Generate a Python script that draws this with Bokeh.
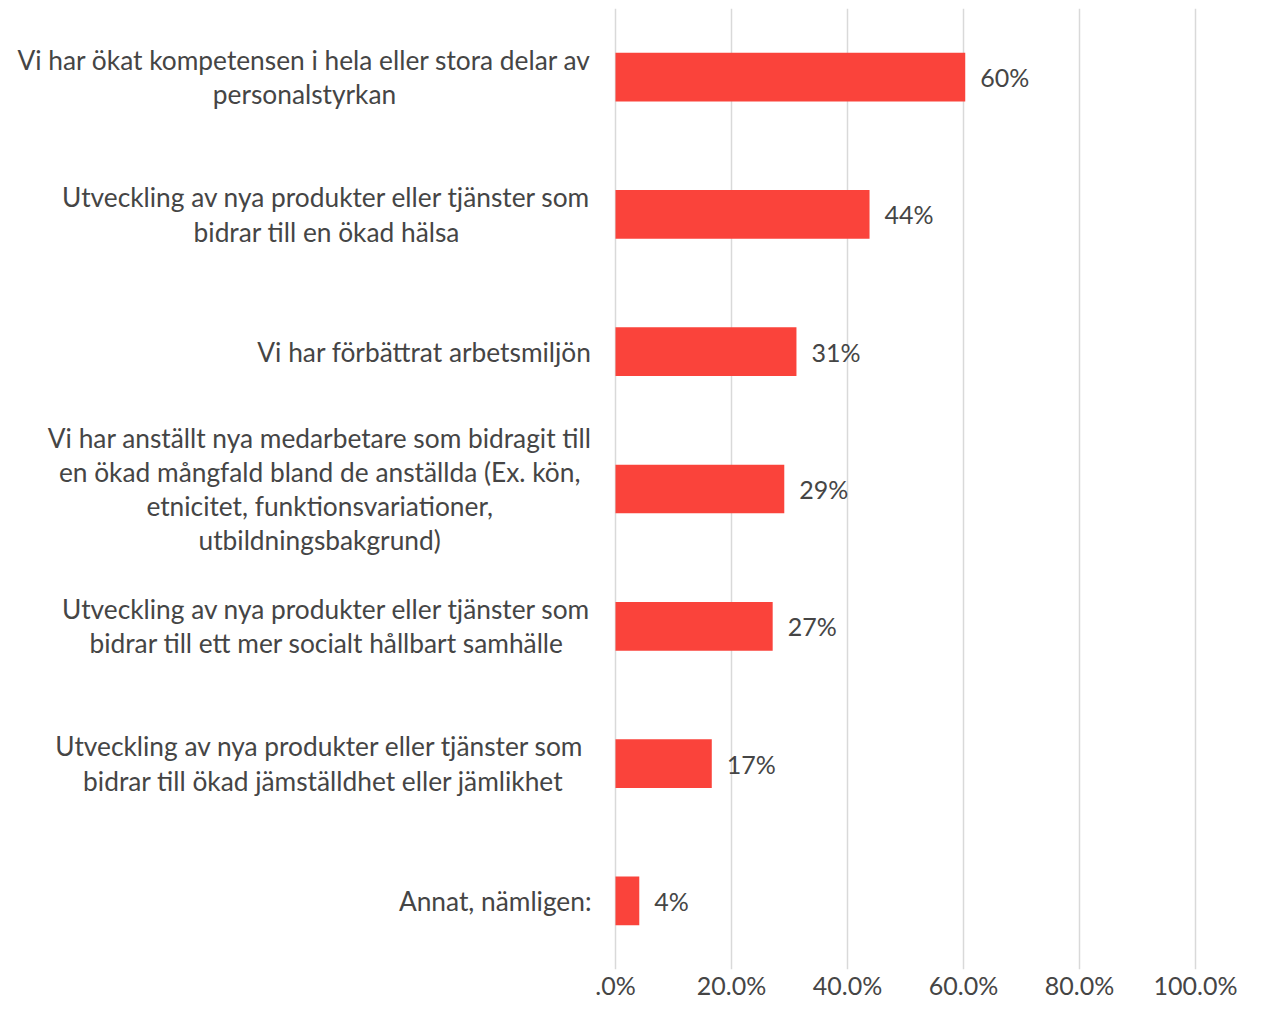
from bokeh.plotting import figure
from bokeh.models import ColumnDataSource, Range1d, FactorRange, FixedTicker
from bokeh.embed import file_html
from bokeh.resources import INLINE
from bokeh.core.properties import value

# ---- data (top to bottom) ----
categories = [
    "Vi har ökat kompetensen i hela eller stora delar av\npersonalstyrkan",
    "Utveckling av nya produkter eller tjänster som\nbidrar till en ökad hälsa",
    "Vi har förbättrat arbetsmiljön",
    "Vi har anställt nya medarbetare som bidragit till\nen ökad mångfald bland de anställda (Ex. kön,\netnicitet, funktionsvariationer,\nutbildningsbakgrund)",
    "Utveckling av nya produkter eller tjänster som\nbidrar till ett mer socialt hållbart samhälle",
    "Utveckling av nya produkter eller tjänster  som\nbidrar till ökad jämställdhet eller jämlikhet",
    "Annat, nämligen:",
]
values = [60.3, 43.8, 31.2, 29.1, 27.1, 16.6, 4.1]
value_labels = [f"{round(v)}%" for v in values]
x_ticks = [0, 20, 40, 60, 80, 100]
x_tick_labels = [".0%", "20.0%", "40.0%", "60.0%", "80.0%", "100.0%"]

FONT = "Lato"
TEXT_COLOR = "#454545"
BAR_COLOR = "#FA433B"

src = ColumnDataSource(dict(cat=categories, val=values, lab=value_labels,
                            zero=[0] * len(values)))

W, H = 1247, 1002
PX = 5.8  # pixels per percent
p = figure(width=W, height=H, output_backend="svg", toolbar_location=None,
           x_range=Range1d(-615 / PX, 100 + 3 / PX),
           y_range=FactorRange(factors=list(reversed(categories)), range_padding=0),
           y_axis_location=None, min_border_left=0, min_border_right=49,
           min_border_top=8, min_border_bottom=30)
p.outline_line_color = None
p.background_fill_color = "white"
p.border_fill_color = "white"

p.hbar(y="cat", left=0, right="val", height=0.355, source=src,
       fill_color=BAR_COLOR, line_color=None)

# category labels
p.text(x="zero", y="cat", text="cat", source=src, x_offset=-24,
       anchor="center_right", text_align="center", text_baseline="middle",
       text_font=value(FONT), text_font_size="26.3px", text_color=TEXT_COLOR,
       text_line_height=1.07)

# value labels
p.text(x="val", y="cat", text="lab", source=src, x_offset=15,
       text_align="left", text_baseline="middle",
       text_font=value(FONT), text_font_size="25px", text_color=TEXT_COLOR)

ax = p.xaxis[0]
ax.ticker = FixedTicker(ticks=x_ticks)
ax.major_label_overrides = {t: l for t, l in zip(x_ticks, x_tick_labels)}
ax.axis_line_color = None
ax.major_tick_line_color = None
ax.minor_tick_line_color = None
ax.major_tick_out = 0
ax.major_tick_in = 0
ax.minor_tick_out = 0
ax.major_label_text_font = FONT
ax.major_label_text_font_size = "25px"
ax.major_label_text_color = TEXT_COLOR
ax.major_label_standoff = 0

p.xgrid.ticker = FixedTicker(ticks=x_ticks)
p.xgrid.grid_line_color = "#D9D9D9"
p.xgrid.grid_line_width = 1.5
p.ygrid.grid_line_color = None

open("out.html", "w").write(file_html(p, INLINE))
